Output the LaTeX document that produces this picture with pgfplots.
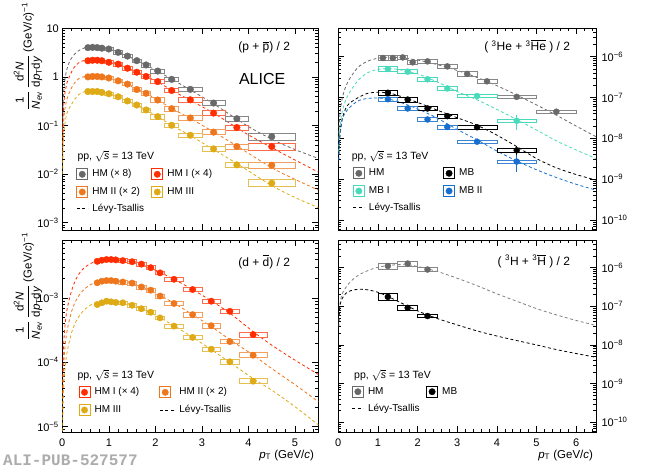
\documentclass[border=0pt]{standalone}
\usepackage{fontspec}
\setmainfont{Liberation Sans}
\setmonofont{Liberation Mono}
\usepackage{amsmath}
\usepackage{pgfplots}
\usepackage{pgfplotstable}
\pgfplotsset{compat=1.18}
\pgfdeclareplotmark{nothing}{}

\definecolor{cgray}{RGB}{105,105,105}
\definecolor{cred}{RGB}{255,45,0}
\definecolor{corange}{RGB}{238,118,28}
\definecolor{cyellow}{RGB}{222,170,22}
\definecolor{cturq}{RGB}{72,218,186}
\definecolor{cblue}{RGB}{22,110,205}
\definecolor{cpub}{RGB}{172,172,172}

% ---------------- proton ----------------
\pgfplotstableread{
x y bw bh e
0.55 4.0 2.33 1.46 0
0.65 4.05 2.33 1.46 0
0.75 4.0 2.33 1.46 0
0.85 3.9 2.33 1.46 0
1.0 3.75 4.65 1.46 0
1.2 3.2 4.65 1.7 0
1.4 2.68 4.65 1.7 0
1.6 2.16 4.65 1.7 0
1.8 1.76 4.65 1.94 0
2.05 1.32 6.98 2.19 0
2.35 0.89 6.98 2.19 0
2.75 0.555 11.64 2.19 0
3.25 0.29 11.64 2.43 0
3.75 0.138 11.64 2.43 0
4.5 0.059 23.27 3.4 0
}\pGray
\pgfplotstableread{
x y bw bh e
0.55 2.15 2.33 1.46 0
0.65 2.2 2.33 1.46 0
0.75 2.2 2.33 1.46 0
0.85 2.15 2.33 1.46 0
1.0 2.0 4.65 1.46 0
1.2 1.83 4.65 1.7 0
1.4 1.51 4.65 1.7 0
1.6 1.25 4.65 1.7 0
1.8 1.02 4.65 1.94 0
2.05 0.80 6.98 2.19 0
2.35 0.525 6.98 2.19 0
2.75 0.338 11.64 2.19 0
3.25 0.18 11.64 2.43 0
3.75 0.091 11.64 2.43 0
4.5 0.037 23.27 3.4 0
}\pRed
\pgfplotstableread{
x y bw bh e
0.55 1.0 2.33 1.46 0
0.65 1.02 2.33 1.46 0
0.75 1.02 2.33 1.46 0
0.85 1.0 2.33 1.46 0
1.0 0.95 4.65 1.46 0
1.2 0.83 4.65 1.7 0
1.4 0.71 4.65 1.7 0
1.6 0.55 4.65 1.7 0
1.8 0.46 4.65 1.94 0
2.05 0.335 6.98 2.19 0
2.35 0.222 6.98 2.19 0
2.75 0.143 11.64 2.19 0
3.25 0.073 11.64 2.43 0
3.75 0.037 11.64 2.43 0
4.5 0.0152 23.27 3.4 0
}\pOrange
\pgfplotstableread{
x y bw bh e
0.55 0.5 2.33 1.46 0
0.65 0.5 2.33 1.46 0
0.75 0.5 2.33 1.46 0
0.85 0.48 2.33 1.46 0
1.0 0.45 4.65 1.46 0
1.2 0.39 4.65 1.7 0
1.4 0.32 4.65 1.7 0
1.6 0.264 4.65 1.7 0
1.8 0.209 4.65 1.94 0
2.05 0.152 6.98 2.19 0
2.35 0.101 6.98 2.19 0
2.75 0.063 11.64 2.19 0
3.25 0.033 11.64 2.43 0
3.75 0.0155 11.64 2.43 0
4.5 0.0065 23.27 3.4 0
}\pYellow

% ---------------- deuteron ----------------
\pgfplotstableread{
x y bw bh e
0.75 3.7e-3 2.33 1.6 0
0.85 3.85e-3 2.33 1.6 0
0.95 3.95e-3 2.33 1.6 0
1.05 3.95e-3 2.33 1.6 0
1.15 3.9e-3 2.33 1.6 0
1.3 3.8e-3 4.65 1.9 0
1.5 3.65e-3 4.65 1.9 0
1.7 3.35e-3 4.65 1.9 0
1.9 2.95e-3 4.65 1.9 0
2.1 2.45e-3 4.65 1.9 0
2.4 1.95e-3 9.31 2.2 0
2.8 1.35e-3 9.31 2.2 0
3.2 8.9e-4 9.31 2.2 0
3.6 6.2e-4 9.31 2.2 0
4.1 2.7e-4 13.96 2.5 0
}\dRed
\pgfplotstableread{
x y bw bh e
0.75 1.72e-3 2.33 1.6 0
0.85 1.82e-3 2.33 1.6 0
0.95 1.86e-3 2.33 1.6 0
1.05 1.86e-3 2.33 1.6 0
1.15 1.82e-3 2.33 1.6 0
1.3 1.77e-3 4.65 1.9 0
1.5 1.7e-3 4.65 1.9 0
1.7 1.48e-3 4.65 1.9 0
1.9 1.32e-3 4.65 1.9 0
2.1 1.07e-3 4.65 1.9 0
2.4 8.2e-4 9.31 2.2 0
2.8 5.5e-4 9.31 2.2 0
3.2 3.7e-4 9.31 2.2 0
3.6 2.1e-4 9.31 2.2 0
4.1 1.29e-4 13.96 2.5 0
}\dOrange
\pgfplotstableread{
x y bw bh e
0.75 7.9e-4 2.33 1.6 0
0.85 8.4e-4 2.33 1.6 0
0.95 8.9e-4 2.33 1.6 0
1.05 8.7e-4 2.33 1.6 0
1.15 8.5e-4 2.33 1.6 0
1.3 8.4e-4 4.65 1.9 0
1.5 7.7e-4 4.65 1.9 0
1.7 6.8e-4 4.65 1.9 0
1.9 6.0e-4 4.65 1.9 0
2.1 4.9e-4 4.65 1.9 0
2.4 3.65e-4 9.31 2.2 0
2.8 2.44e-4 9.31 2.2 0
3.2 1.6e-4 9.31 2.2 0
3.6 1.02e-4 9.31 2.2 0
4.1 5.1e-5 13.96 2.5 0
}\dYellow

% ---------------- 3He ----------------
\pgfplotstableread{
x y bw bh e
1.125 9.3e-7 4.96 2.25 0.03
1.375 9.3e-7 4.96 2.25 0.03
1.625 9.6e-7 4.96 2.25 0.03
1.875 7.3e-7 4.96 2.25 0.03
2.25 7.7e-7 9.91 2.04 0.03
2.75 5.8e-7 9.91 2.04 0.03
3.25 3.8e-7 9.91 2.04 0.04
3.75 2.5e-7 9.91 2.04 0.05
4.5 1.04e-7 19.83 1.43 0.06
5.5 4.5e-8 19.83 1.43 0.15
}\heHM
\pgfplotstableread{
x y bw bh e
1.25 1.31e-7 9.91 2.45 0.04
1.75 8.9e-8 9.91 2.25 0.04
2.25 5.4e-8 9.91 2.04 0.05
2.75 3.5e-8 9.91 2.04 0.06
3.5 1.87e-8 19.83 1.63 0.1
4.5 5.1e-9 19.83 1.63 0.27
}\heMB
\pgfplotstableread{
x y bw bh e
1.25 5.0e-7 9.91 2.25 0.05
1.75 4.3e-7 9.91 2.04 0.05
2.25 2.8e-7 9.91 2.04 0.06
2.75 1.67e-7 9.91 2.04 0.08
3.5 1.09e-7 19.83 1.63 0.12
4.5 2.7e-8 19.83 1.63 0.4
}\heMBI
\pgfplotstableread{
x y bw bh e
1.25 9.1e-8 9.91 2.25 0.05
1.75 5.4e-8 9.91 2.04 0.06
2.25 2.9e-8 9.91 2.04 0.07
2.75 1.9e-8 9.91 2.04 0.08
3.5 8.3e-9 19.83 1.63 0.12
4.5 2.7e-9 19.83 1.63 0.45
}\heMBII

% ---------------- 3H ----------------
\pgfplotstableread{
x y bw bh e
1.25 1.1e-6 9.91 3.0 0.05
1.75 1.27e-6 9.91 2.3 0.04
2.25 8.9e-7 9.91 1.8 0.05
}\hHM
\pgfplotstableread{
x y bw bh e
1.25 1.75e-7 9.91 3.9 0.08
1.75 9.1e-8 9.91 2.2 0.06
2.25 5.6e-8 9.91 1.8 0.06
}\hMB

\newcommand{\curve}[2]{\addplot[forget plot, color=#1, line width=0.8pt, dash pattern=on 3pt off 2.5pt, smooth, tension=0.5] coordinates {#2};}
\newcommand{\boxes}[2]{\addplot[forget plot, only marks, mark=nothing, scatter,
    visualization depends on={\thisrow{bw} \as \boxw},
    visualization depends on={\thisrow{bh} \as \boxh},
    scatter/@pre marker code/.code={\draw[#1, line width=0.7pt] (-\boxw pt,-\boxh pt) rectangle (\boxw pt,\boxh pt);},
    scatter/@post marker code/.code={}] table[x=x,y=y] {#2};}
\newcommand{\pts}[3]{\addplot[color=#1, only marks, mark=*, mark size=#3,
    error bars/.cd, y dir=both, y explicit relative, error mark=none,
    error bar style={line width=0.8pt}] table[x=x,y=y,y error=e] {#2};}

\pgfplotsset{
  panel/.style={
    scale only axis, anchor=south west,
    axis line style={line width=0.8pt},
    tick style={black, line width=0.6pt},
    major tick length=6pt, minor tick length=3pt,
    tick align=inside, tick pos=both,
    ticklabel style={font=\fontsize{11}{12}\selectfont},
    xtick={0,1,2,3,4,5,6},
    minor xtick={0.2,0.4,0.6,0.8,1.2,1.4,1.6,1.8,2.2,2.4,2.6,2.8,3.2,3.4,3.6,3.8,4.2,4.4,4.6,4.8,5.2,5.4,5.6,5.8,6.2,6.4},
    /pgf/number format/assume math mode=true,
    legend columns=2, legend cell align=left,
    legend style={draw=none, fill=none, anchor=north west, inner sep=0pt, outer sep=0pt,
      row sep=6pt, column sep=2.25pt, font=\fontsize{10}{12}\selectfont,
      nodes={inner xsep=2pt, inner ysep=0pt, text height=7.5pt, text depth=2.5pt}},
    legend image code/.code={\draw[line width=0.7pt] (-5.5pt,-5.5pt) rectangle (5.5pt,5.5pt); \fill (0pt,0pt) circle (3.2pt);},
  },
  mright/.style={
    ytick={1e-10,1e-9,1e-8,1e-7,1e-6},
    yticklabels={10\textsuperscript{−10},10\textsuperscript{−9},10\textsuperscript{−8},10\textsuperscript{−7},10\textsuperscript{−6}},
    minor ytick={6e-11,7e-11,8e-11,9e-11,2e-10,3e-10,4e-10,5e-10,6e-10,7e-10,8e-10,9e-10,2e-9,3e-9,4e-9,5e-9,6e-9,7e-9,8e-9,9e-9,2e-8,3e-8,4e-8,5e-8,6e-8,7e-8,8e-8,9e-8,2e-7,3e-7,4e-7,5e-7,6e-7,7e-7,8e-7,9e-7,2e-6,3e-6,4e-6},
    yticklabel pos=right, yticklabel style={xshift=2pt}},
}

\begin{document}
\begin{tikzpicture}[x=1pt,y=1pt]
\useasboundingbox (0,0) rectangle (650,469);

% ===================== top left: protons =====================
\begin{axis}[panel, at={(62.3pt,239pt)}, width=256pt, height=201.7pt,
  xmin=0, xmax=5.5, ymode=log, ymin=7.08e-4, ymax=10, xticklabels={},
  ytick={0.001,0.01,0.1,1,10},
  yticklabels={10\textsuperscript{−3},10\textsuperscript{−2},10\textsuperscript{−1},1,10},
  minor ytick={8e-4,9e-4,2e-3,3e-3,4e-3,5e-3,6e-3,7e-3,8e-3,9e-3,0.02,0.03,0.04,0.05,0.06,0.07,0.08,0.09,0.2,0.3,0.4,0.5,0.6,0.7,0.8,0.9,2,3,4,5,6,7,8,9},
  legend style={at={(0.0549,0.3052)}}]
\curve{cgray}{(0.005,0.08)(0.02,0.32)(0.05,0.8)(0.1,1.45)(0.17,2.2)(0.28,3.05)(0.39,3.65)(0.5,4.0)(0.6,4.15)(0.7,4.15)(0.8,4.05)(1.0,3.75)(1.2,3.2)(1.4,2.68)(1.6,2.18)(1.8,1.76)(2.05,1.3)(2.35,0.9)(2.75,0.54)(3.25,0.28)(3.75,0.135)(4.0,0.095)(4.5,0.052)(5.0,0.032)(5.5,0.021)}
\curve{cred}{(0.005,0.042)(0.02,0.17)(0.05,0.42)(0.1,0.75)(0.14,0.95)(0.24,1.5)(0.35,1.95)(0.45,2.15)(0.55,2.22)(0.7,2.25)(0.85,2.18)(1.0,2.05)(1.2,1.82)(1.4,1.52)(1.6,1.25)(1.8,1.02)(2.05,0.79)(2.35,0.53)(2.75,0.33)(3.25,0.18)(3.75,0.09)(4.0,0.064)(4.5,0.035)(5.0,0.0195)(5.5,0.011)}
\curve{corange}{(0.005,0.02)(0.02,0.08)(0.05,0.2)(0.1,0.35)(0.14,0.45)(0.24,0.7)(0.35,0.92)(0.45,1.0)(0.55,1.04)(0.7,1.05)(0.85,1.01)(1.0,0.95)(1.2,0.84)(1.4,0.71)(1.6,0.56)(1.8,0.46)(2.05,0.335)(2.35,0.225)(2.75,0.14)(3.25,0.074)(3.75,0.038)(4.5,0.0135)(5.0,0.0078)(5.5,0.0047)}
\curve{cyellow}{(0.005,0.01)(0.02,0.04)(0.05,0.1)(0.1,0.18)(0.14,0.22)(0.28,0.36)(0.39,0.46)(0.5,0.5)(0.6,0.52)(0.7,0.52)(0.85,0.49)(1.0,0.455)(1.2,0.39)(1.4,0.32)(1.6,0.262)(1.8,0.208)(2.05,0.152)(2.35,0.101)(2.75,0.062)(3.25,0.032)(3.75,0.0165)(4.5,0.0058)(5.0,0.0033)(5.5,0.00205)}
\boxes{cgray!80}{\pGray}
\boxes{cred!70}{\pRed}
\boxes{corange!70}{\pOrange}
\boxes{cyellow!75}{\pYellow}
\pts{cgray}{\pGray}{3.3pt}
\pts{cred}{\pRed}{3.3pt}
\pts{corange}{\pOrange}{3.3pt}
\pts{cyellow}{\pYellow}{3.3pt}
\addlegendimage{black, line width=0.8pt, dash pattern=on 3pt off 2.5pt, legend image code/.code={\draw (-5.5pt,0pt) -- (5.5pt,0pt);}}
\legend{\makebox[54.8pt][l]{HM (× 8)}, HM I (× 4), HM II (× 2), HM III, Lévy-Tsallis}
\end{axis}

% ===================== top right: 3He =====================
\begin{axis}[panel, mright, at={(338.3pt,239pt)}, width=257.7pt, height=201.7pt,
  xmin=0, xmax=6.5, ymode=log, ymin=5.69e-11, ymax=4.97e-6, xticklabels={},
  legend style={at={(0.0568,0.310)}}]
\curve{cgray}{(0.01,9.7e-9)(0.03,2.9e-8)(0.1,9.7e-8)(0.23,2.3e-7)(0.48,5.3e-7)(0.73,7.7e-7)(1.0,9.2e-7)(1.25,9.7e-7)(1.5,9.6e-7)(2.0,8.3e-7)(2.5,6.4e-7)(3.0,4.6e-7)(3.5,3.1e-7)(4.0,1.95e-7)(4.5,1.15e-7)(5.0,6.6e-8)(5.5,3.7e-8)(6.0,2.0e-8)(6.5,1.1e-8)}
\curve{cturq}{(0.01,4.6e-9)(0.03,1.4e-8)(0.1,4.6e-8)(0.23,1.07e-7)(0.48,2.5e-7)(0.73,4.0e-7)(1.0,4.9e-7)(1.25,5.1e-7)(1.5,4.9e-7)(2.0,3.8e-7)(2.5,2.4e-7)(3.0,1.4e-7)(3.5,8.8e-8)(4.0,5.1e-8)(4.5,2.9e-8)(5.0,1.6e-8)(5.5,8.7e-9)(6.0,5.2e-9)(6.5,3.2e-9)}
\curve{black}{(0.01,3e-9)(0.03,9e-9)(0.1,3e-8)(0.23,6.4e-8)(0.48,9.7e-8)(0.73,1.26e-7)(1.0,1.35e-7)(1.25,1.3e-7)(1.5,1.13e-7)(2.0,7.6e-8)(2.5,4.9e-8)(3.0,3.2e-8)(3.5,2.1e-8)(4.0,1.2e-8)(4.5,6.3e-9)(5.0,3.2e-9)(5.5,1.9e-9)(6.0,1.3e-9)(6.5,9.5e-10)}
\curve{cblue}{(0.01,2.9e-9)(0.03,8.7e-9)(0.1,2.9e-8)(0.23,5.0e-8)(0.48,8.1e-8)(0.73,9.5e-8)(1.0,9.7e-8)(1.25,9.2e-8)(1.5,8.0e-8)(2.0,5.3e-8)(2.5,3.1e-8)(3.0,1.65e-8)(3.5,9.2e-9)(4.0,4.9e-9)(4.5,2.8e-9)(5.0,1.7e-9)(5.5,1.1e-9)(6.0,7.5e-10)(6.5,5.4e-10)}
\boxes{cgray!80}{\heHM}
\boxes{black}{\heMB}
\boxes{cturq}{\heMBI}
\boxes{cblue!85}{\heMBII}
\pts{cgray}{\heHM}{3pt}
\pts{black}{\heMB}{3pt}
\pts{cturq}{\heMBI}{3pt}
\pts{cblue}{\heMBII}{3pt}
\addlegendimage{black, line width=0.8pt, dash pattern=on 3pt off 2.5pt, legend image code/.code={\draw (-5.5pt,0pt) -- (5.5pt,0pt);}}
\legend{\makebox[70pt][l]{HM}, MB, MB I, MB II, Lévy-Tsallis}
\end{axis}

% ===================== bottom left: deuterons =====================
\begin{axis}[panel, at={(62.3pt,36.7pt)}, width=256pt, height=192pt,
  xmin=0, xmax=5.5, ymode=log, ymin=8.2e-6, ymax=7.85e-3,
  xticklabel style={yshift=-3.4pt},
  ytick={1e-5,1e-4,1e-3},
  yticklabels={10\textsuperscript{−5},10\textsuperscript{−4},10\textsuperscript{−3}},
  minor ytick={9e-6,2e-5,3e-5,4e-5,5e-5,6e-5,7e-5,8e-5,9e-5,2e-4,3e-4,4e-4,5e-4,6e-4,7e-4,8e-4,9e-4,2e-3,3e-3,4e-3,5e-3,6e-3,7e-3},
  legend style={at={(0.0639,0.2388)}}]
\curve{cred}{(0.005,3.3e-5)(0.02,1.3e-4)(0.05,3.2e-4)(0.1,6.5e-4)(0.2,1.3e-3)(0.3,2.0e-3)(0.4,2.6e-3)(0.5,3.05e-3)(0.6,3.4e-3)(0.7,3.65e-3)(0.8,3.8e-3)(1.0,3.95e-3)(1.2,3.9e-3)(1.4,3.75e-3)(1.6,3.45e-3)(1.8,3.1e-3)(2.0,2.7e-3)(2.4,1.95e-3)(2.8,1.35e-3)(3.2,9e-4)(3.6,5.8e-4)(4.1,3.0e-4)(4.5,1.85e-4)(5.0,1.08e-4)(5.5,6.5e-5)}
\curve{corange}{(0.005,1.5e-5)(0.02,6e-5)(0.05,1.5e-4)(0.1,3.0e-4)(0.2,6.2e-4)(0.3,9.3e-4)(0.4,1.2e-3)(0.5,1.42e-3)(0.6,1.6e-3)(0.7,1.72e-3)(0.8,1.8e-3)(1.0,1.86e-3)(1.2,1.82e-3)(1.4,1.73e-3)(1.6,1.58e-3)(1.8,1.4e-3)(2.0,1.2e-3)(2.4,8.3e-4)(2.8,5.5e-4)(3.2,3.6e-4)(3.6,2.25e-4)(4.1,1.3e-4)(4.5,8.0e-5)(5.0,4.5e-5)(5.5,2.45e-5)}
\curve{cyellow}{(0.005,7e-6)(0.02,2.8e-5)(0.05,7e-5)(0.1,1.4e-4)(0.2,2.9e-4)(0.3,4.4e-4)(0.4,5.7e-4)(0.5,6.8e-4)(0.6,7.7e-4)(0.7,8.3e-4)(0.8,8.6e-4)(1.0,8.8e-4)(1.2,8.6e-4)(1.4,8.1e-4)(1.6,7.2e-4)(1.8,6.3e-4)(2.0,5.4e-4)(2.4,3.7e-4)(2.8,2.45e-4)(3.2,1.58e-4)(3.6,1.0e-4)(4.1,5.6e-5)(4.5,3.7e-5)(5.0,2.05e-5)(5.5,1.07e-5)}
\boxes{cred!70}{\dRed}
\boxes{corange!70}{\dOrange}
\boxes{cyellow!75}{\dYellow}
\pts{cred}{\dRed}{3.2pt}
\pts{corange}{\dOrange}{3.2pt}
\pts{cyellow}{\dYellow}{3.2pt}
\addlegendimage{black, line width=0.8pt, dash pattern=on 3pt off 2.5pt, legend image code/.code={\draw (-5.5pt,0pt) -- (9.5pt,0pt);}}
\legend{\makebox[60.5pt][l]{HM I (× 4)}, HM II (× 2), HM III, Lévy-Tsallis}
\end{axis}

% ===================== bottom right: 3H =====================
\begin{axis}[panel, mright, at={(338.3pt,36.7pt)}, width=257.7pt, height=192pt,
  xmin=0, xmax=6.5, ymode=log, ymin=5.52e-11, ymax=5.07e-6,
  xticklabel style={yshift=-3.4pt},
  legend style={at={(0.053,0.2419)}}]
\curve{cgray!85}{(0.01,3e-8)(0.04,1.1e-7)(0.1,2.1e-7)(0.24,3.6e-7)(0.4,5.3e-7)(0.58,7.0e-7)(0.8,8.8e-7)(1.0,1.02e-6)(1.25,1.13e-6)(1.5,1.19e-6)(1.75,1.17e-6)(2.0,1.07e-6)(2.5,7.9e-7)(3.0,5.3e-7)(3.5,3.4e-7)(4.0,2.1e-7)(4.5,1.35e-7)(5.0,8.7e-8)(5.5,6.0e-8)(6.0,4.3e-8)(6.5,3.2e-8)}
\curve{black}{(0.01,3e-8)(0.04,1.0e-7)(0.1,1.6e-7)(0.2,2.2e-7)(0.35,2.6e-7)(0.55,2.75e-7)(0.75,2.65e-7)(1.0,2.3e-7)(1.25,1.8e-7)(1.5,1.35e-7)(2.0,7.6e-8)(2.5,4.8e-8)(3.0,3.3e-8)(3.5,2.3e-8)(4.0,1.7e-8)(4.5,1.3e-8)(5.0,1.0e-8)(5.5,7.6e-9)(6.0,6.0e-9)(6.5,4.8e-9)}
\boxes{cgray!80}{\hHM}
\boxes{black}{\hMB}
\pts{cgray}{\hHM}{3pt}
\pts{black}{\hMB}{3pt}
\addlegendimage{black, line width=0.8pt, dash pattern=on 3pt off 2.5pt, legend image code/.code={\draw (-5.5pt,0pt) -- (5.5pt,0pt);}}
\legend{\makebox[54pt][l]{HM}, MB, Lévy-Tsallis}
\end{axis}

% ===================== texts =====================
\node[anchor=base east, font=\fontsize{12}{14}\selectfont] at (293.5,418.2) {(p + $\overline{\mbox{p}}$) / 2};
\node[anchor=base east, font=\fontsize{16}{18}\selectfont] at (288.8,384) {ALICE};
\node[anchor=base east, font=\fontsize{12}{14}\selectfont] at (573.5,418.5) {( \textsuperscript{3}He + \textsuperscript{3}$\overline{\mbox{He}}$ ) / 2};
\node[anchor=base east, font=\fontsize{12}{14}\selectfont] at (293.5,203) {(d + $\overline{\mbox{d}}$) / 2};
\node[anchor=base east, font=\fontsize{12}{14}\selectfont] at (573.5,203.8) {( \textsuperscript{3}H + \textsuperscript{3}$\overline{\mbox{H}}$ ) / 2};

\node[anchor=base west, font=\fontsize{10.5}{12}\selectfont] at (74,309.5) {pp, $\sqrt{\mbox{\textit{s}}}$ = 13 TeV};
\node[anchor=base west, font=\fontsize{10.5}{12}\selectfont] at (348.3,309.2) {pp, $\sqrt{\mbox{\textit{s}}}$ = 13 TeV};
\node[anchor=base west, font=\fontsize{10.5}{12}\selectfont] at (74,90.2) {pp, $\sqrt{\mbox{\textit{s}}}$ = 13 TeV};
\node[anchor=base west, font=\fontsize{10.5}{12}\selectfont] at (350.7,90.2) {pp, $\sqrt{\mbox{\textit{s}}}$ = 13 TeV};

\node[rotate=90, font=\fontsize{11.5}{13}\selectfont] at (28,412.5) {$\dfrac{\mbox{1}}{\mbox{\textit{N}\textsubscript{ev}}}\,\dfrac{\mbox{d\textsuperscript{2}\textit{N}}}{\mbox{d\textit{p}\textsubscript{T}d\textit{y}}}$ (GeV/\textit{c})\textsuperscript{−1}};
\node[rotate=90, font=\fontsize{11.5}{13}\selectfont] at (28,182.5) {$\dfrac{\mbox{1}}{\mbox{\textit{N}\textsubscript{ev}}}\,\dfrac{\mbox{d\textsuperscript{2}\textit{N}}}{\mbox{d\textit{p}\textsubscript{T}d\textit{y}}}$ (GeV/\textit{c})\textsuperscript{−1}};

\node[anchor=base east, font=\fontsize{11.5}{13}\selectfont] at (317.5,11) {\textit{p}\textsubscript{T} (GeV/\textit{c})};
\node[anchor=base east, font=\fontsize{11.5}{13}\selectfont] at (596.5,11) {\textit{p}\textsubscript{T} (GeV/\textit{c})};

\node[anchor=base west, inner sep=0pt, font=\ttfamily\bfseries\fontsize{16}{18}\selectfont, text=cpub] at (3,3.3) {ALI-PUB-527577};
\end{tikzpicture}
\end{document}
